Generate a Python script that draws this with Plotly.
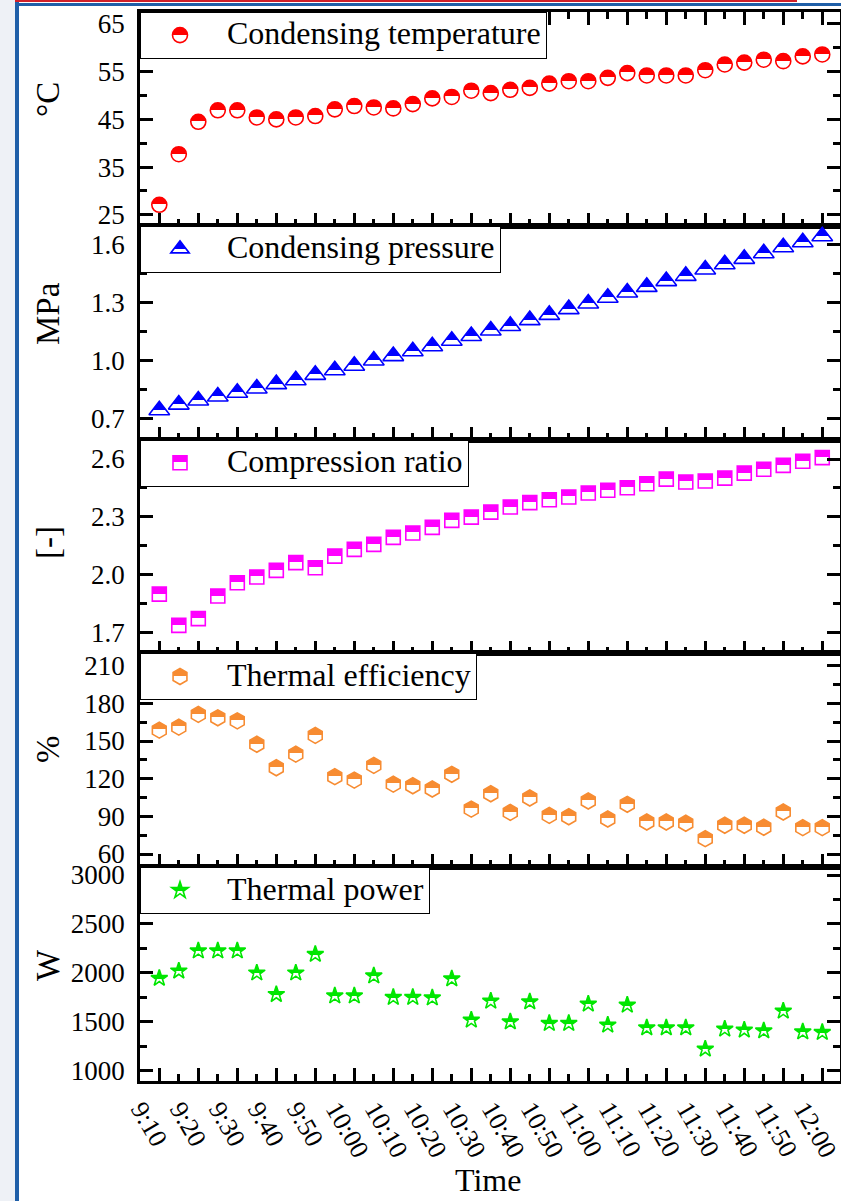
import plotly.graph_objects as go
from plotly.subplots import make_subplots

# ---------------- data ----------------
sample_times = ["9:10", "9:15", "9:20", "9:25", "9:30", "9:35", "9:40", "9:45", "9:50", "9:55",
                "10:00", "10:05", "10:10", "10:15", "10:20", "10:25", "10:30", "10:35", "10:40", "10:45",
                "10:50", "10:55", "11:00", "11:05", "11:10", "11:15", "11:20", "11:25", "11:30", "11:35",
                "11:40", "11:45", "11:50", "11:55", "12:00"]
time_labels = ["9:10", "9:20", "9:30", "9:40", "9:50", "10:00", "10:10", "10:20", "10:30",
               "10:40", "10:50", "11:00", "11:10", "11:20", "11:30", "11:40", "11:50", "12:00"]

cond_temp = [27.1, 37.7, 44.5, 46.9, 46.9, 45.4, 45.0, 45.4, 45.7, 47.1, 47.8, 47.5, 47.3, 48.2,
             49.4, 49.7, 51.0, 50.5, 51.2, 51.6, 52.5, 53.0, 53.0, 53.7, 54.7, 54.2, 54.2, 54.2,
             55.3, 56.5, 56.9, 57.5, 57.2, 58.2, 58.6]
cond_pressure = [0.745, 0.774, 0.795, 0.816, 0.835, 0.857, 0.880, 0.900, 0.928, 0.952, 0.975, 1.002,
                 1.025, 1.050, 1.076, 1.104, 1.129, 1.157, 1.181, 1.211, 1.238, 1.268, 1.297, 1.327,
                 1.354, 1.383, 1.413, 1.440, 1.473, 1.500, 1.528, 1.557, 1.588, 1.614, 1.645]
comp_ratio = [1.900, 1.738, 1.773, 1.890, 1.959, 1.989, 2.023, 2.063, 2.037, 2.097, 2.132, 2.158,
              2.194, 2.217, 2.246, 2.282, 2.299, 2.325, 2.351, 2.374, 2.389, 2.403, 2.424, 2.438,
              2.451, 2.472, 2.496, 2.481, 2.486, 2.501, 2.527, 2.547, 2.567, 2.588, 2.607]
thermal_eff = [158.7, 161.1, 171.2, 168.5, 166.1, 147.4, 128.7, 139.6, 154.5, 121.6, 118.9, 130.6,
               115.7, 114.4, 111.8, 123.5, 95.8, 108.0, 93.2, 104.6, 90.8, 89.7, 102.2, 87.9,
               99.6, 85.5, 85.5, 84.5, 72.2, 82.9, 82.9, 81.3, 93.5, 81.0, 81.0]
thermal_power = [1945, 2020, 2225, 2225, 2225, 2000, 1780, 2000, 2190, 1765, 1765, 1970, 1750, 1750,
                 1745, 1940, 1518, 1712, 1501, 1705, 1484, 1484, 1682, 1467, 1671, 1439, 1439, 1439,
                 1222, 1426, 1416, 1409, 1610, 1398, 1392]

series_names = ["Condensing temperature", "Condensing pressure", "Compression ratio",
                "Thermal efficiency", "Thermal power"]
unit_labels = ["\u00b0C", "MPa", "[-]", "%", "W"]

# ---------------- styling ----------------
SERIF = "Liberation Serif, Times New Roman, serif"
colors = ["#FF0000", "#0000FF", "#FF00FF", "#F78C32", "#00E600"]
symbols = ["circle", "triangle-up", "square", "hexagon", "star"]
sizes = [15, 18, 14, 16, 12.5]
y_ranges = [[22.7, 67.5], [0.593, 1.699], [1.593, 2.7005], [49.5, 219.8], [895, 3080]]
y_tick0 = [25, 0.7, 1.7, 60, 1000]
y_dtick = [10, 0.3, 0.3, 30, 500]
y_fmt = ["d", ".1f", ".1f", "d", "d"]
title_centers_px = [100, 314, 543, 749, 965]

W, H = 841, 1201
ML, MR, MT, MB = 140, 1, 12, 120
PW, PH = W - ML - MR, H - MT - MB


def px_x(p):
    return (p - ML) / PW


def px_y(p):
    return (H - MB - p) / PH


x_pos = list(range(len(sample_times)))
series_vals = [cond_temp, cond_pressure, comp_ratio, thermal_eff, thermal_power]

fig = make_subplots(rows=5, cols=1, shared_xaxes=True, vertical_spacing=0)

for k in range(5):
    leg = "legend" if k == 0 else f"legend{k + 1}"
    fig.add_trace(go.Scatter(
        x=x_pos, y=series_vals[k], mode="markers",
        name="<span style='font-size:32px'>\u00a0" + series_names[k] + "</span>",
        marker=dict(symbol=symbols[k], size=sizes[k], color=colors[k],
                    line=dict(color=colors[k], width=1.6),
                    gradient=dict(type="vertical", color="white")),
        legend=leg, showlegend=True, hoverinfo="x+y"), row=k + 1, col=1)

tickvals_x = [sample_times.index(t) for t in time_labels]

for k in range(5):
    r = k + 1
    fig.update_xaxes(
        row=r, col=1, range=[-0.99, 34.91], tickmode="array", tickvals=tickvals_x,
        ticktext=time_labels, showticklabels=(r == 5), tickangle=60,
        ticklabelshift=-18, ticklabeloverflow="allow", automargin=False,
        ticks="inside", ticklen=13, tickwidth=2.5, tickcolor="black",
        minor=dict(tickmode="linear", tick0=0, dtick=1, ticks="inside", ticklen=7,
                   tickwidth=2.5, tickcolor="black"),
        showline=True, linewidth=2.5, linecolor="black",
        mirror=("ticks" if r == 1 else True), showgrid=False, zeroline=False,
        tickfont=dict(family=SERIF, size=26, color="black"))
    fig.update_yaxes(
        row=r, col=1, range=y_ranges[k], tickmode="linear", tick0=y_tick0[k], dtick=y_dtick[k],
        tickformat=y_fmt[k], ticks="inside", ticklen=13, tickwidth=2.5, tickcolor="black",
        ticklabelstandoff=7, automargin=False,
        minor=dict(tickmode="linear", tick0=y_tick0[k], dtick=y_dtick[k] / 2, ticks="inside",
                   ticklen=7, tickwidth=2.5, tickcolor="black"),
        showline=True, linewidth=2.5, linecolor="black", mirror="ticks",
        showgrid=False, zeroline=False,
        tickfont=dict(family=SERIF, size=27, color="black"))

# legends, one per panel
legend_tops = [1.0, 0.8, 0.6, 0.4, 0.2]
layout_legends = {}
for k in range(5):
    key = "legend" if k == 0 else f"legend{k + 1}"
    layout_legends[key] = dict(
        x=0, y=legend_tops[k], xref="paper", yref="paper", xanchor="left", yanchor="top",
        bgcolor="white", bordercolor="black", borderwidth=1, itemwidth=68,
        font=dict(family=SERIF, size=24, color="black"))

annotations = []
for k in range(5):
    annotations.append(dict(
        text=unit_labels[k], x=px_x(48), y=px_y(title_centers_px[k]), xref="paper", yref="paper",
        xanchor="center", yanchor="middle", textangle=-90, showarrow=False,
        font=dict(family=SERIF, size=33, color="black")))
annotations.append(dict(
    text="Time", x=px_x(488), y=px_y(1180), xref="paper", yref="paper",
    xanchor="center", yanchor="middle", showarrow=False,
    font=dict(family=SERIF, size=32, color="black")))

# slide frame decoration (screenshot border)
shapes = [
    dict(type="rect", xref="paper", yref="paper", x0=px_x(0), x1=px_x(15), y0=px_y(H), y1=px_y(0),
         fillcolor="#EEF1F6", line=dict(width=0), layer="below"),
    dict(type="rect", xref="paper", yref="paper", x0=px_x(15), x1=px_x(19), y0=px_y(H), y1=px_y(0),
         fillcolor="#1F5FA8", line=dict(width=0)),
    dict(type="rect", xref="paper", yref="paper", x0=px_x(15), x1=px_x(W), y0=px_y(6), y1=px_y(3),
         fillcolor="#1F5FA8", line=dict(width=0)),
    dict(type="rect", xref="paper", yref="paper", x0=px_x(15), x1=px_x(797), y0=px_y(2), y1=px_y(0),
         fillcolor="#D0202A", line=dict(width=0)),
]

fig.update_layout(
    width=W, height=H, margin=dict(l=ML, r=MR, t=MT, b=MB, autoexpand=False),
    paper_bgcolor="white", plot_bgcolor="white",
    annotations=annotations, shapes=shapes, **layout_legends)

# sharp half-filled markers: put both gradient stops at the same height
post = """
function fixGrad(){
  var special = {'rgb(0,0,255)': '36%', 'rgb(0,230,0)': '42%'};
  document.querySelectorAll('linearGradient').forEach(function(g){
    var s = g.querySelectorAll('stop');
    if(s.length == 2){
      var c = (s[1].getAttribute('stop-color') || '').replace(/\\s/g, '');
      var off = special[c] || '54%';
      s[0].setAttribute('offset', off); s[1].setAttribute('offset', off);
    }
  });
}
fixGrad();
var gd = document.getElementById('{plot_id}');
if(gd && gd.on){ gd.on('plotly_afterplot', fixGrad); }
"""

fig.write_html("out.html", post_script=post)
